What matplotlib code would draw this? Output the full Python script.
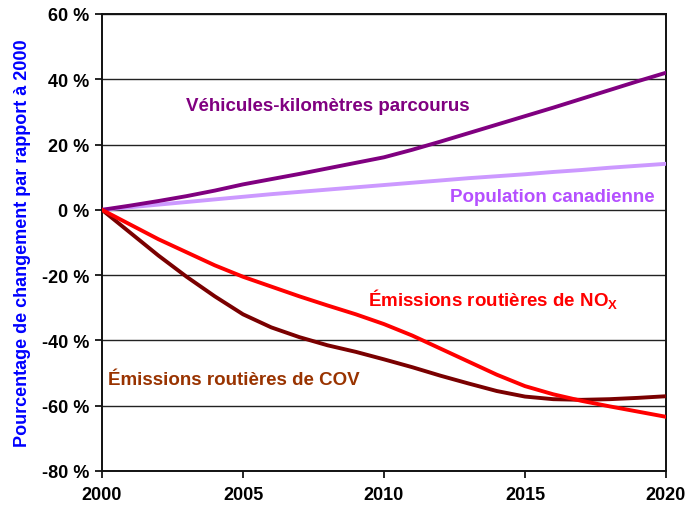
import matplotlib
matplotlib.use("Agg")
import matplotlib.pyplot as plt

plt.rcParams["font.family"] = ["Liberation Sans", "DejaVu Sans"]
plt.rcParams["font.weight"] = "bold"

# 変化率 (%)、2000 年基準
years = list(range(2000, 2021))
vkt = [0, 1.3, 2.7, 4.2, 5.9, 7.8, 9.4, 11.0, 12.7, 14.4, 16.1,
       18.4, 20.9, 23.5, 26.1, 28.7, 31.3, 34.0, 36.7, 39.4, 42.0]
population = [0, 0.8, 1.6, 2.4, 3.2, 4.0, 4.8, 5.5, 6.2, 6.9, 7.6,
              8.3, 9.0, 9.7, 10.3, 10.9, 11.6, 12.2, 12.9, 13.5, 14.1]
nox = [0, -4.5, -9.0, -13.0, -17.0, -20.5, -23.5, -26.5, -29.3, -32.0, -35.0,
       -38.5, -42.5, -46.5, -50.5, -54.0, -56.5, -58.5, -60.2, -61.8, -63.4]
cov = [0, -7.0, -14.0, -20.5, -26.5, -32.0, -36.0, -39.0, -41.5, -43.5, -45.8,
       -48.2, -50.8, -53.2, -55.5, -57.2, -58.0, -58.2, -58.0, -57.6, -57.1]

xticks = [2000, 2005, 2010, 2015, 2020]
yticks = [-80, -60, -40, -20, 0, 20, 40, 60]

fig = plt.figure(figsize=(6.87, 5.06), dpi=100)
ax = fig.add_axes([0.1485, 0.0672, 0.8209, 0.9032])

for y in yticks:
    ax.axhline(y, color="#222222", linewidth=1.0, zorder=1)

ax.plot(years, population, color="#CC99FF", linewidth=2.8, zorder=3)
ax.plot(years, vkt, color="#800080", linewidth=2.8, zorder=4)
ax.plot(years, cov, color="#7A0000", linewidth=2.8, zorder=3)
ax.plot(years, nox, color="#FF0000", linewidth=2.8, zorder=4)

ax.text(2002.98, 31.9, "Véhicules-kilomètres parcourus", color="#800080",
        fontsize=13.5, fontweight="bold", va="center", ha="left")
ax.text(2019.6, 4.0, "Population canadienne", color="#B550FF",
        fontsize=13.5, fontweight="bold", va="center", ha="right")
ax.text(2009.43, -27.3, "Émissions routières de NO$_\\mathregular{X}$", color="#FF0000",
        fontsize=13.5, fontweight="bold", va="center", ha="left")
ax.text(2000.2, -52.1, "Émissions routières de COV", color="#993300",
        fontsize=13.5, fontweight="bold", va="center", ha="left")

ax.set_xlim(2000, 2020)
ax.set_ylim(-80, 60)
ax.set_xticks(xticks)
ax.set_xticklabels([str(x) for x in xticks])
ax.set_yticks(yticks)
ax.set_yticklabels([f"{y} %" for y in yticks])
ax.tick_params(direction="out", length=5, width=1.2, labelsize=13, pad=4)
ax.tick_params(axis="x", pad=6)
for lbl in ax.get_xticklabels() + ax.get_yticklabels():
    lbl.set_fontweight("bold")

for side in ["left", "right", "top", "bottom"]:
    ax.spines[side].set_linewidth(1.4)
    ax.spines[side].set_color("#111111")

ax.set_ylabel("Pourcentage de changement par rapport à 2000", color="#0000FF",
              fontsize=13, fontweight="bold", labelpad=8)

fig.savefig("out.png", dpi=100)
